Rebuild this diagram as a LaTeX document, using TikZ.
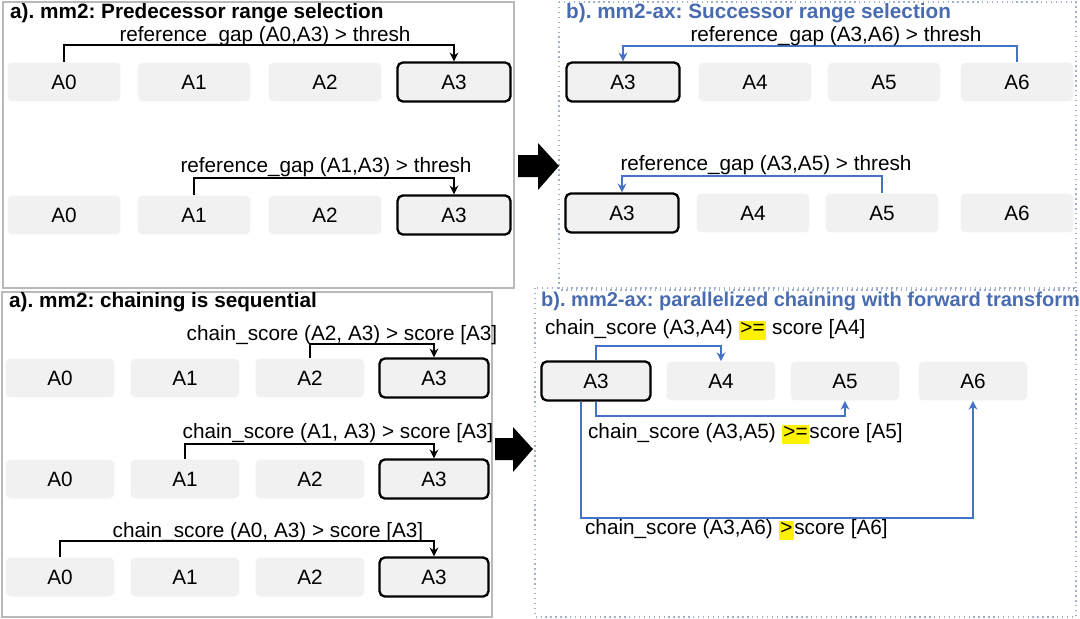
\documentclass[tikz,border=0pt]{standalone}
\usepackage{fontspec}
\setmainfont{Liberation Sans}
\usepackage{xcolor}
\usepackage{tikz}
\usetikzlibrary{arrows.meta}
\definecolor{cellgray}{RGB}{241,241,241}
\definecolor{framegray}{RGB}{185,185,185}
\definecolor{dotblue}{RGB}{160,176,200}
\definecolor{axblue}{RGB}{68,114,196}
\definecolor{ttlblue}{RGB}{72,108,175}
\frenchspacing
\newcommand{\hl}[1]{{\setlength{\fboxsep}{1pt}\colorbox{yellow}{\rule[-2pt]{0pt}{8.5pt}#1}}}

\begin{document}
\begin{tikzpicture}
  [
    x=0.02cm, y=-0.02cm,
    every node/.style={font=\fontsize{11.8}{14}\selectfont},
    cell/.style={
       minimum width =2.26cm,
       minimum height=0.78cm,
       rounded corners=3pt,
       fill=cellgray,
       inner sep=0pt
    },
    narrow/.style={minimum width=2.18cm},
    sel/.style={draw=black, line width=1.3pt},
    lk/.style={
       draw=black,
       line width=1pt,
       -{Stealth[length=5pt,width=5pt]}
    },
    lb/.style={lk, draw=axblue, -{Stealth[length=5pt,width=5pt,axblue]}},
    ttl/.style={anchor=west, font=\fontsize{11.8}{14}\selectfont\bfseries},
    lbl/.style={inner sep=1pt}
  ]
  \useasboundingbox (0,0) rectangle (1080,619);

  % panel frames
  \draw [framegray, line width=0.8pt] (3,2) rectangle (514,288);
  \draw [framegray, line width=0.8pt] (2,292) rectangle (492,617);
  \draw [dotblue, line width=0.8pt, dotted] (559,2) rectangle (1076,290);
  \draw [dotblue, line width=0.8pt, dotted] (535,288) rectangle (1076,617);

  \node [ttl] (ttlA) at (4,13) {a). mm2: Predecessor range selection};
  \node [ttl, ttlblue] (ttlB) at (560,13) {b). mm2-ax: Successor range selection};
  \node [ttl] (ttlC) at (3,302) {a). mm2: chaining is sequential};
  \node [ttl, ttlblue, font=\fontsize{11.4}{14}\selectfont\bfseries] (ttlD) at (535,301)
        {b). mm2-ax: parallelized chaining with forward transform};

  % top left
  \node (ta0) at ( 64, 82) [cell]      {A0};
  \node (ta1) at (194, 82) [cell]      {A1};
  \node (ta2) at (325, 82) [cell]      {A2};
  \node (ta3) at (454, 82) [cell, sel] {A3};
  \node (tb0) at ( 64,215) [cell]      {A0};
  \node (tb1) at (194,215) [cell]      {A1};
  \node (tb2) at (325,215) [cell]      {A2};
  \node (tb3) at (454,215) [cell, sel] {A3};

  \draw [lk] (ta0.north) -- ++(0,-17) -| (ta3.north);
  \draw [lk] (tb1.north) -- ++(0,-17) -| (tb3.north);
  \node [lbl] (gapA) at (265, 36) {reference\_gap (A0,A3) > thresh};
  \node [lbl] (gapB) at (326,167) {reference\_gap (A1,A3) > thresh};

  % top right
  \node (tc3) at ( 623, 82) [cell, sel] {A3};
  \node (tc4) at ( 755, 82) [cell]      {A4};
  \node (tc5) at ( 884, 82) [cell]      {A5};
  \node (tc6) at (1017, 82) [cell]      {A6};
  \node (td3) at ( 622,213) [cell, sel] {A3};
  \node (td4) at ( 753,213) [cell]      {A4};
  \node (td5) at ( 882,213) [cell]      {A5};
  \node (td6) at (1017,213) [cell]      {A6};

  \draw [lb] (tc6.north) -- ++(0,-16) -| (tc3.north);
  \draw [lb] (td5.north) -- ++(0,-17) -| (td3.north);
  \node [lbl] (gapC) at (836, 36) {reference\_gap (A3,A6) > thresh};
  \node [lbl] (gapD) at (766,165) {reference\_gap (A3,A5) > thresh};

  % bottom left
  \node (ba0) at ( 60,378) [cell, narrow]      {A0};
  \node (ba1) at (185,378) [cell, narrow]      {A1};
  \node (ba2) at (310,378) [cell, narrow]      {A2};
  \node (ba3) at (434,378) [cell, narrow, sel] {A3};
  \node (bb0) at ( 60,479) [cell, narrow]      {A0};
  \node (bb1) at (185,479) [cell, narrow]      {A1};
  \node (bb2) at (310,479) [cell, narrow]      {A2};
  \node (bb3) at (434,479) [cell, narrow, sel] {A3};
  \node (bc0) at ( 60,577) [cell, narrow]      {A0};
  \node (bc1) at (185,577) [cell, narrow]      {A1};
  \node (bc2) at (310,577) [cell, narrow]      {A2};
  \node (bc3) at (434,577) [cell, narrow, sel] {A3};

  \draw [lk] (ba2.north) -- ++(0,-14) -| (ba3.north);
  \draw [lk] (bb1.north) -- ++(0,-15) -| (bb3.north);
  \draw [lk] (bc0.north) -- ++(0,-16) -| (bc3.north);
  \node [lbl] (scA) at (342,335) {chain\_score (A2, A3) > score [A3]};
  \node [lbl] (scB) at (338,433) {chain\_score (A1, A3) > score [A3]};
  \node [lbl] (scC) at (268,532) {chain\_score (A0, A3) > score [A3]};

  % bottom right
  \node (r3) at (596,381) [cell, narrow, sel] {A3};
  \node (r4) at (721,381) [cell, narrow]      {A4};
  \node (r5) at (845,381) [cell, narrow]      {A5};
  \node (r6) at (973,381) [cell, narrow]      {A6};

  \draw [lb] (r3.north) -- ++(0,-14) -| (r4.north);
  \draw [lb] (r3.south) -- ++(0,14) -| (r5.south);
  \draw [lb] ([xshift=-0.3cm]r3.south) -- ++(0,116) -| (r6.south);
  \node [lbl, anchor=west] (scD) at (543,330) {chain\_score (A3,A4) \hl{>=} score [A4]};
  \node [lbl, anchor=west] (scE) at (586,434) {chain\_score (A3,A5) \hl{>=}score [A5]};
  \node [lbl, anchor=west] (scF) at (583,530) {chain\_score (A3,A6) \hl{>}score [A6]};

  % block arrows between panels
  \fill (518,155) -- (538,155) -- (538,143) -- (559,166) -- (538,190) -- (538,177) -- (518,177) -- cycle;
  \fill (495,438) -- (513,438) -- (513,427) -- (533,449) -- (513,472) -- (513,460) -- (495,460) -- cycle;
\end{tikzpicture}
\end{document}
